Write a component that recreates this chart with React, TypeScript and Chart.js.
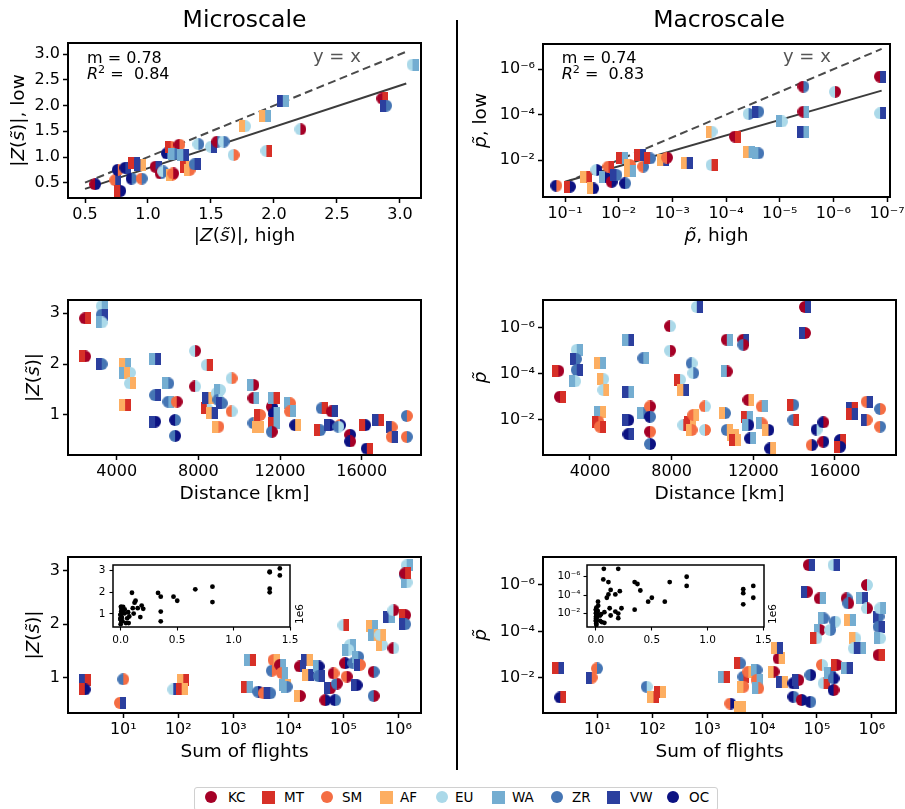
import React, { useEffect, useRef } from "react";
import { Chart, registerables } from "chart.js";

Chart.register(...registerables);

const FONT = "'DejaVu Sans', 'Liberation Sans', sans-serif";

// ---------- regions ----------
const REGIONS = ["KC", "MT", "SM", "AF", "EU", "WA", "ZR", "VW", "OC"];
const REGION_COLORS = ["#a50026", "#d73027", "#f46d43", "#fdae61", "#abd9e9", "#74add1", "#4575b4", "#2b3f9e", "#0c1282"];
const REGION_SHAPES = ["circle", "square", "circle", "square", "circle", "square", "circle", "square", "circle"];

// ---------- top-left: |Z| high vs low ----------
const tlHigh = [0.58, 0.74, 0.78, 0.76, 0.82, 0.87, 0.89, 0.94, 0.95, 1.06, 1.10, 1.12, 1.15, 1.18, 1.25, 1.21, 1.19, 1.20, 1.28, 1.30, 1.33, 1.37, 1.40, 1.50, 1.55, 1.60, 1.68, 1.77, 1.93, 1.94, 2.07, 2.21, 2.86, 2.89, 3.10];
const tlLow = [0.47, 0.55, 0.34, 0.75, 0.79, 0.58, 0.89, 0.85, 0.58, 0.81, 0.68, 0.72, 1.07, 1.20, 1.24, 1.06, 0.65, 0.68, 1.04, 0.80, 0.75, 0.86, 1.25, 1.20, 1.30, 1.30, 1.04, 1.60, 1.80, 1.12, 2.09, 1.54, 2.14, 2.00, 2.80];
const tlPairs = ["KC|OC", "SM|VW", "MT|OC", "OC|SM", "OC|VW", "OC|ZR", "MT|VW", "VW|AF", "SM|ZR", "KC|VW", "KC|ZR", "EU|ZR", "OC|ZR", "MT|SM", "KC|SM", "WA|ZR", "AF|SM", "SM|KC", "WA|VW", "MT|AF", "AF|SM", "ZR|VW", "EU|ZR", "EU|VW", "KC|ZR", "EU|ZR", "EU|SM", "AF|EU", "AF|WA", "EU|MT", "VW|WA", "EU|KC", "KC|MT", "VW|ZR", "EU|WA"];
const tlFitX = [0.5, 3.05];
const tlFitY = [0.38, 2.43];
const tlDiag = [0.5, 3.05];

// ---------- top-right: p high vs low ----------
const trHigh = [1.45e-1, 8.1e-2, 4.0e-2, 3.0e-2, 2.6e-2, 1.8e-2, 1.55e-2, 1.35e-2, 1.1e-2, 8.7e-3, 7.6e-3, 6.2e-3, 6.2e-3, 4.0e-3, 3.5e-3, 2.6e-3, 1.48e-3, 1.26e-3, 5.4e-4, 1.86e-4, 1.86e-4, 6.8e-5, 3.8e-5, 2.5e-5, 3.8e-5, 2.5e-5, 9.1e-6, 3.6e-6, 3.6e-6, 3.6e-6, 9.3e-7, 1.35e-7, 1.35e-7];
const trLow = [1.35e-1, 1.5e-1, 5.5e-2, 1.8e-1, 2.75e-2, 5.5e-2, 1.95e-2, 9.1e-2, 4.6e-2, 8.5e-3, 1.07e-1, 1.66e-2, 3.2e-2, 6.0e-3, 1.95e-2, 8.5e-3, 1.0e-2, 7.9e-3, 1.4e-2, 1.66e-2, 5.6e-4, 9.3e-4, 4.3e-3, 5.1e-3, 9.3e-5, 7.4e-5, 2.0e-4, 5.8e-6, 7.4e-5, 5.6e-4, 9.8e-6, 2.1e-6, 8.7e-5];
const trPairs = ["OC|SM", "MT|OC", "AF|MT", "AF|OC", "EU|OC", "WA|OC", "SM|MT", "KC|OC", "VW|ZR", "MT|WA", "OC|ZR", "AF|SM", "AF|WA", "MT|VW", "SM|ZR", "MT|ZR", "AF|VW", "SM|KC", "AF|VW", "EU|MT", "AF|EU", "KC|MT", "AF|WA", "WA|ZR", "EU|ZR", "VW|ZR", "WA|EU", "KC|ZR", "KC|WA", "VW|WA", "EU|KC", "KC|VW", "EU|VW"];
const trFitX = [1e-1, 1.26e-7];
const trFitY = [9.1e-2, 8.7e-6];
const trDiag = [1e-1, 1.26e-7];

// ---------- middle-left: distance vs |Z| ----------
const mlDist = [2450, 2450, 3265, 3265, 3265, 3265, 4410, 4410, 4650, 4650, 4410, 5880, 5880, 5880, 6530, 6530, 6940, 6860, 6860, 7840, 7840, 8410, 8410, 8490, 8900, 9060, 8980, 8650, 9150, 8980, 9630, 9630, 10700, 10700, 10700, 11020, 10940, 11600, 11680, 11680, 11680, 11600, 12490, 12490, 12740, 14040, 13960, 14530, 14450, 14940, 14860, 15430, 15430, 16170, 16250, 16820, 17470, 17470, 18210, 18210];
const mlZ = [2.90, 2.15, 3.14, 2.97, 2.82, 2.00, 2.00, 1.82, 1.83, 1.62, 1.20, 2.10, 1.39, 0.87, 1.62, 1.26, 1.26, 0.90, 0.59, 2.26, 1.56, 1.98, 1.13, 1.33, 1.43, 1.49, 1.30, 1.03, 1.23, 0.77, 1.72, 1.07, 1.59, 1.33, 0.84, 1.00, 0.77, 1.16, 1.33, 1.03, 0.84, 0.67, 1.23, 1.07, 0.80, 1.13, 0.70, 1.07, 0.80, 0.80, 0.77, 0.61, 0.48, 0.80, 0.34, 0.90, 0.76, 0.57, 0.98, 0.57];
const mlPairs = ["KC|MT", "MT|KC", "EU|WA", "ZR|VW", "WA|EU", "VW|ZR", "AF|WA", "WA|AF", "AF|EU", "EU|AF", "AF|MT", "WA|VW", "ZR|VW", "VW|OC", "WA|ZR", "ZR|WA", "SM|KC", "OC|ZR", "ZR|OC", "EU|KC", "KC|EU", "EU|MT", "MT|EU", "VW|AF", "EU|ZR", "WA|EU", "ZR|EU", "AF|VW", "VW|ZR", "AF|SM", "EU|SM", "SM|EU", "WA|KC", "KC|WA", "ZR|AF", "MT|SM", "AF|AF", "KC|OC", "WA|MT", "OC|WA", "MT|WA", "ZR|KC", "WA|SM", "SM|WA", "OC|AF", "ZR|MT", "MT|ZR", "KC|VW", "VW|OC", "SM|OC", "ZR|EU", "KC|OC", "OC|KC", "MT|OC", "OC|MT", "VW|MT", "VW|SM", "SM|VW", "ZR|SM", "SM|ZR"];

// ---------- middle-right: distance vs p ----------
const mrDist = [2450, 2530, 3350, 3310, 3350, 3270, 4490, 4650, 4650, 4490, 4410, 4490, 5880, 5880, 5880, 5880, 6610, 6610, 6940, 6940, 6940, 6940, 7920, 7920, 8410, 8570, 8570, 8900, 8980, 9060, 9060, 8980, 9230, 9630, 9630, 10700, 10700, 10610, 10700, 11020, 11100, 11510, 11510, 11760, 11680, 11760, 11840, 12410, 12410, 12740, 12820, 13960, 13960, 14530, 14530, 14860, 15100, 15430, 15430, 16250, 16250, 16820, 16820, 17550, 17550, 18210, 18210];
const mrP = [7.4e-5, 9.8e-4, 9.1e-6, 2.3e-5, 6.8e-5, 2.1e-4, 3.5e-5, 1.7e-4, 5.0e-4, 4.4e-3, 1.17e-2, 1.95e-2, 3.3e-6, 5.9e-4, 1.0e-2, 4.1e-2, 2.1e-5, 5.1e-3, 2.6e-3, 7.2e-3, 3.2e-2, 1.1e-1, 8.7e-7, 9.8e-6, 1.8e-4, 5.0e-4, 1.66e-2, 1.17e-2, 3.5e-5, 9.3e-5, 6.0e-3, 2.7e-2, 1.26e-7, 2.6e-3, 2.7e-2, 3.3e-6, 7.9e-5, 5.1e-3, 2.7e-2, 4.5e-2, 7.4e-2, 3.3e-6, 5.5e-6, 1.35e-3, 7.2e-3, 1.66e-2, 6.3e-2, 2.6e-3, 1.4e-2, 2.7e-2, 1.7e-1, 2.2e-3, 1.0e-2, 1.26e-7, 1.7e-6, 1.23e-1, 2.6e-2, 1.26e-2, 8.7e-2, 7.4e-2, 1.45e-1, 3.1e-3, 5.5e-3, 1.6e-3, 1.0e-2, 3.3e-3, 1.95e-2];
const mrPairs = ["MT|KC", "KC|MT", "EU|WA", "VW|ZR", "ZR|VW", "WA|EU", "AF|WA", "AF|EU", "EU|AF", "WA|AF", "MT|SM", "SM|MT", "WA|VW", "VW|WA", "VW|OC", "OC|VW", "ZR|WA", "WA|ZR", "SM|KC", "OC|ZR", "KC|SM", "ZR|OC", "KC|EU", "EU|KC", "MT|EU", "AF|VW", "EU|MT", "MT|AF", "ZR|EU", "EU|ZR", "SM|AF", "AF|SM", "EU|VW", "SM|EU", "EU|SM", "KC|WA", "WA|KC", "AF|ZR", "ZR|AF", "AF|AF", "MT|AF", "KC|VW", "ZR|KC", "KC|AF", "MT|WA", "WA|OC", "OC|WA", "SM|WA", "WA|SM", "AF|OC", "OC|AF", "MT|ZR", "ZR|MT", "KC|VW", "VW|KC", "SM|OC", "OC|EU", "OC|KC", "KC|OC", "OC|MT", "MT|OC", "VW|MT", "MT|VW", "SM|VW", "VW|SM", "ZR|SM", "SM|ZR"];

// ---------- bottom-left: flights vs |Z| ----------
const blFlights = [2.0, 2.0, 10, 8.7, 81, 123, 115, 2000, 1740, 2820, 3550, 4680, 5370, 5010, 7080, 7590, 8710, 9330, 16200, 21400, 22900, 16200, 35500, 35500, 57500, 46800, 70800, 75900, 66100, 100000, 107000, 115000, 132000, 123000, 151000, 186000, 200000, 174000, 331000, 355000, 501000, 468000, 355000, 355000, 661000, 813000, 813000, 1320000, 1320000, 1410000, 1320000, 1410000, 1320000];
const blZ = [0.96, 0.78, 0.97, 0.53, 0.78, 0.96, 0.78, 1.33, 0.82, 0.74, 0.71, 0.71, 1.33, 1.13, 1.24, 1.09, 0.86, 0.83, 1.21, 1.33, 1.05, 0.66, 1.21, 1.03, 0.80, 0.58, 0.58, 0.89, 1.08, 1.98, 1.27, 1.02, 1.61, 1.52, 1.27, 1.39, 1.24, 0.86, 1.97, 1.80, 1.61, 1.80, 1.11, 0.66, 2.14, 2.26, 1.55, 2.17, 2.00, 3.10, 2.92, 2.78, 2.95];
const blPairs = ["VW|MT", "MT|OC", "ZR|SM", "SM|VW", "EU|VW", "AF|MT", "MT|AF", "WA|MT", "MT|WA", "ZR|OC", "SM|VW", "VW|ZR", "SM|AF", "ZR|SM", "KC|WA", "SM|WA", "WA|AF", "WA|ZR", "KC|VW", "VW|AF", "AF|VW", "AF|KC", "WA|OC", "ZR|VW", "VW|KC", "KC|OC", "OC|ZR", "ZR|KC", "KC|SM", "EU|MT", "KC|OC", "SM|KC", "EU|WA", "WA|EU", "ZR|WA", "WA|ZR", "VW|SM", "VW|OC", "AF|WA", "WA|AF", "AF|EU", "EU|AF", "KC|ZR", "ZR|KC", "VW|WA", "EU|KC", "KC|EU", "MT|KC", "VW|ZR", "EU|WA", "ZR|VW", "WA|EU", "KC|MT"];

// ---------- bottom-right: flights vs p ----------
const brFlights = [1.95, 2.1, 9.8, 7.9, 79, 105, 138, 2000, 2630, 3980, 3980, 4570, 4570, 5620, 7940, 7940, 8510, 16200, 20000, 18600, 22900, 37200, 45700, 37200, 52500, 75900, 70800, 66100, 75900, 112000, 112000, 97700, 132000, 200000, 214000, 174000, 123000, 132000, 174000, 200000, 200000, 229000, 347000, 347000, 372000, 398000, 501000, 468000, 661000, 813000, 813000, 617000, 1320000, 1320000, 1410000, 1410000, 1320000];
const brP = [4.0e-3, 7.1e-2, 4.0e-3, 9.8e-3, 2.45e-2, 6.6e-2, 4.0e-2, 9.1e-3, 1.3e-1, 1.8e-1, 2.4e-3, 9.1e-3, 2.45e-2, 5.5e-3, 4.7e-3, 1.26e-2, 2.9e-2, 5.5e-3, 1.48e-3, 5.4e-4, 1.48e-2, 1.74e-2, 1.26e-2, 6.6e-2, 9.1e-2, 1.1e-1, 1.38e-7, 1.95e-6, 7.6e-3, 3.8e-6, 8.7e-5, 2.0e-4, 2.75e-5, 1.38e-7, 3.8e-5, 8.7e-5, 2.8e-3, 1.74e-2, 6.5e-3, 1.07e-2, 3.4e-2, 2.8e-3, 4.0e-3, 3.8e-6, 6.2e-6, 3.2e-5, 2.0e-4, 5.4e-4, 3.8e-6, 1.0e-6, 1.02e-5, 5.4e-4, 2.3e-5, 6.3e-5, 2.0e-4, 1.02e-5, 1.05e-3];
const brPairs = ["MT|VW", "OC|MT", "SM|ZR", "VW|SM", "ZR|EU", "AF|MT", "MT|AF", "WA|MT", "SM|OC", "AF|AF", "MT|ZR", "ZR|MT", "AF|SM", "SM|AF", "WA|ZR", "SM|WA", "WA|SM", "AF|KC", "KC|AF", "AF|VW", "VW|AF", "OC|VW", "VW|KC", "OC|ZR", "KC|OC", "OC|ZR", "KC|VW", "VW|KC", "ZR|OC", "KC|WA", "WA|KC", "MT|EU", "WA|ZR", "EU|VW", "ZR|EU", "EU|ZR", "SM|EU", "EU|MT", "WA|ZR", "ZR|OC", "OC|KC", "MT|KC", "WA|VW", "KC|ZR", "ZR|KC", "AF|WA", "AF|EU", "EU|VW", "WA|VW", "KC|EU", "EU|KC", "VW|WA", "VW|ZR", "ZR|VW", "WA|EU", "EU|WA", "KC|MT"];

// ---------- tick values / labels ----------
const tlTicks = [0.5, 1.0, 1.5, 2.0, 2.5, 3.0];
const tlTickLabels = ["0.5", "1.0", "1.5", "2.0", "2.5", "3.0"];
const trXTicks = [1e-1, 1e-2, 1e-3, 1e-4, 1e-5, 1e-6, 1e-7];
const trXTickLabels = ["10⁻¹", "10⁻²", "10⁻³", "10⁻⁴", "10⁻⁵", "10⁻⁶", "10⁻⁷"];
const pTicks = [1e-2, 1e-4, 1e-6];
const pTickLabels = ["10⁻²", "10⁻⁴", "10⁻⁶"];
const distTicks = [4000, 8000, 12000, 16000];
const distTickLabels = ["4000", "8000", "12000", "16000"];
const zTicks = [1, 2, 3];
const zTickLabels = ["1", "2", "3"];
const flightTicks = [1e1, 1e2, 1e3, 1e4, 1e5, 1e6];
const flightTickLabels = ["10¹", "10²", "10³", "10⁴", "10⁵", "10⁶"];
const insetXTicks = [0, 0.5, 1.0, 1.5];
const insetXTickLabels = ["0.0", "0.5", "1.0", "1.5"];

// ---------- helpers ----------
type Seg = { t: string; it?: boolean; sup?: boolean };
type TextItem = { x: number; y: number; segs: Seg[]; size: number; align?: "left" | "center"; rot?: number; color?: string };

function segFont(s: Seg, size: number) {
  const sz = s.sup ? size * 0.7 : size;
  return `${s.it ? "italic " : ""}${sz}px ${FONT}`;
}

function drawRich(ctx: CanvasRenderingContext2D, it: TextItem, ox: number, oy: number) {
  ctx.save();
  ctx.translate(it.x - ox, it.y - oy);
  if (it.rot) ctx.rotate(it.rot);
  ctx.textBaseline = "alphabetic";
  ctx.textAlign = "left";
  const widths = it.segs.map((s) => {
    ctx.font = segFont(s, it.size);
    return ctx.measureText(s.t).width;
  });
  const total = widths.reduce((a, b) => a + b, 0);
  let cx = it.align === "center" ? -total / 2 : 0;
  ctx.fillStyle = it.color || "#000";
  it.segs.forEach((s, i) => {
    ctx.font = segFont(s, it.size);
    ctx.fillText(s.t, cx, s.sup ? -it.size * 0.38 : 0);
    cx += widths[i];
  });
  ctx.restore();
}

const markerCache = new Map<string, HTMLCanvasElement>();
const MARKER = 12;
function drawHalf(g: CanvasRenderingContext2D, region: string, side: "left" | "right") {
  const i = REGIONS.indexOf(region);
  const r = MARKER / 2;
  g.fillStyle = REGION_COLORS[i];
  if (REGION_SHAPES[i] === "circle") {
    g.beginPath();
    if (side === "left") g.arc(r, r, r, Math.PI / 2, (3 * Math.PI) / 2);
    else g.arc(r, r, r, -Math.PI / 2, Math.PI / 2);
    g.closePath();
    g.fill();
  } else {
    if (side === "left") g.fillRect(0, 0, r, MARKER);
    else g.fillRect(r, 0, r, MARKER);
  }
}
function makeMarker(pair: string): HTMLCanvasElement {
  const cached = markerCache.get(pair);
  if (cached) return cached;
  const [a, b] = pair.split("|");
  const c = document.createElement("canvas");
  c.width = MARKER;
  c.height = MARKER;
  const g = c.getContext("2d")!;
  drawHalf(g, a, "left");
  drawHalf(g, b, "right");
  markerCache.set(pair, c);
  return c;
}

function pairDataset(xs: number[], ys: number[], pairs: string[]) {
  return {
    data: xs.map((x, i) => ({ x, y: ys[i] })),
    pointStyle: pairs.map((p) => makeMarker(p)),
    pointRadius: 6,
    pointHoverRadius: 6,
    borderWidth: 0,
    backgroundColor: "rgba(0,0,0,0)",
    showLine: false,
    clip: 0,
    order: 0,
  };
}
function lineDataset(xs: number[], ys: number[], dashed: boolean) {
  return {
    data: xs.map((x, i) => ({ x, y: ys[i] })),
    showLine: true,
    pointRadius: 0,
    borderColor: dashed ? "#4a4a4a" : "#3c3c3c",
    borderWidth: 2,
    borderDash: dashed ? [8, 4.5] : [],
    fill: false,
    clip: 0,
    order: 1,
  };
}
function dotDataset(xs: number[], ys: number[]) {
  return {
    data: xs.map((x, i) => ({ x, y: ys[i] })),
    pointStyle: "circle",
    pointRadius: 2.4,
    pointHoverRadius: 2.4,
    borderWidth: 0,
    backgroundColor: "#000",
    showLine: false,
    clip: 0,
  };
}

type AxisSpec = {
  type: "linear" | "logarithmic";
  min: number;
  max: number;
  reverse?: boolean;
  ticks: number[];
  labels: string[];
  font: number;
  tickLen?: number;
  pad?: number;
};

function axisOptions(spec: AxisSpec, horizontal: boolean, size: number) {
  return {
    type: spec.type,
    position: horizontal ? "bottom" : "left",
    min: spec.min,
    max: spec.max,
    reverse: !!spec.reverse,
    bounds: "data",
    afterBuildTicks: (s: any) => {
      s.ticks = spec.ticks.map((v) => ({ value: v }));
    },
    afterFit: (s: any) => {
      if (horizontal) s.height = size;
      else s.width = size;
      s.paddingLeft = 0;
      s.paddingRight = 0;
      s.paddingTop = 0;
      s.paddingBottom = 0;
    },
    ticks: {
      autoSkip: false,
      maxRotation: 0,
      minRotation: 0,
      padding: spec.pad ?? 3,
      color: "#000",
      font: { family: FONT, size: spec.font },
      callback: (_v: any, i: number) => spec.labels[i],
    },
    grid: {
      display: true,
      drawOnChartArea: false,
      drawTicks: true,
      tickLength: spec.tickLen ?? 5,
      tickWidth: spec.font > 12 ? 1.5 : 1.1,
      tickColor: "#000",
    },
    border: { display: false },
    title: { display: false },
  };
}

type Panel = {
  left: number;
  top: number;
  width: number;
  height: number;
  area: [number, number, number, number];
  x: AxisSpec;
  y: AxisSpec;
  datasets: () => any[];
  texts: TextItem[];
  inset?: boolean;
};

function createPanel(canvas: HTMLCanvasElement, p: Panel) {
  const [l, t, r, b] = p.area;
  const yW = l - p.left;
  const xH = p.top + p.height - b;
  const plugin = {
    id: "panelDecor",
    beforeDraw(chart: any) {
      if (!p.inset) return;
      const a = chart.chartArea;
      chart.ctx.save();
      chart.ctx.fillStyle = "#fff";
      chart.ctx.fillRect(a.left, a.top, a.right - a.left, a.bottom - a.top);
      chart.ctx.restore();
    },
    afterDatasetsDraw(chart: any) {
      const a = chart.chartArea;
      const ctx = chart.ctx;
      ctx.save();
      ctx.strokeStyle = "#000";
      ctx.lineWidth = p.inset ? 1.5 : 2;
      ctx.strokeRect(a.left, a.top, a.right - a.left, a.bottom - a.top);
      ctx.restore();
    },
    afterDraw(chart: any) {
      p.texts.forEach((it) => drawRich(chart.ctx, it, p.left, p.top));
    },
  };
  return new Chart(canvas, {
    type: "scatter",
    data: { datasets: p.datasets() },
    options: {
      animation: false,
      responsive: false,
      maintainAspectRatio: false,
      events: [],
      layout: { padding: { left: 0, top: t - p.top, right: p.left + p.width - r, bottom: 0 } },
      plugins: { legend: { display: false }, tooltip: { enabled: false }, title: { display: false } },
      scales: {
        x: axisOptions(p.x, true, xH),
        y: axisOptions(p.y, false, yW),
      },
    } as any,
    plugins: [plugin as any],
  });
}

// ---------- text pieces ----------
const zLabel = (suffix: string): Seg[] => [
  { t: "|" },
  { t: "Z", it: true },
  { t: "(" },
  { t: "s\u0303", it: true },
  { t: ")|" + suffix },
];
const pLabel = (suffix: string): Seg[] => [{ t: "p\u0303", it: true }, { t: suffix }];
const LBL = 18.5;

const panels: Panel[] = [
  {
    left: 0, top: 0, width: 457, height: 258, area: [68, 43, 421, 198],
    x: { type: "linear", min: 0.365, max: 3.167, ticks: tlTicks, labels: tlTickLabels, font: 16, pad: 2 },
    y: { type: "linear", min: 0.202, max: 3.22, ticks: tlTicks, labels: tlTickLabels, font: 16 },
    datasets: () => [pairDataset(tlHigh, tlLow, tlPairs), lineDataset(tlFitX, tlFitY, false), lineDataset(tlDiag, tlDiag, true)],
    texts: [
      { x: 244.5, y: 27, size: 23.5, align: "center", segs: [{ t: "Microscale" }] },
      { x: 24, y: 120.5, size: LBL, align: "center", rot: -Math.PI / 2, segs: zLabel(", low") },
      { x: 244.5, y: 241, size: LBL, align: "center", segs: zLabel(", high") },
      { x: 87, y: 62.7, size: 16, segs: [{ t: "m = 0.78" }] },
      { x: 87, y: 79.3, size: 16, segs: [{ t: "R", it: true }, { t: "2", sup: true }, { t: " =  0.84" }] },
      { x: 313, y: 62, size: 18, color: "#555", segs: [{ t: "y = x" }] },
    ],
  },
  {
    left: 458, top: 0, width: 447, height: 258, area: [543, 44, 890, 197],
    x: { type: "logarithmic", min: 8.8e-8, max: 0.257, reverse: true, ticks: trXTicks, labels: trXTickLabels, font: 16, pad: 2 },
    y: { type: "logarithmic", min: 7.67e-8, max: 0.428, reverse: true, ticks: pTicks, labels: pTickLabels, font: 16 },
    datasets: () => [pairDataset(trHigh, trLow, trPairs), lineDataset(trFitX, trFitY, false), lineDataset(trDiag, trDiag, true)],
    texts: [
      { x: 719, y: 27, size: 23.5, align: "center", segs: [{ t: "Macroscale" }] },
      { x: 486, y: 120.5, size: LBL, align: "center", rot: -Math.PI / 2, segs: pLabel(", low") },
      { x: 716.5, y: 241, size: LBL, align: "center", segs: pLabel(", high") },
      { x: 561.7, y: 62.7, size: 16, segs: [{ t: "m = 0.74" }] },
      { x: 561.7, y: 79.3, size: 16, segs: [{ t: "R", it: true }, { t: "2", sup: true }, { t: " =  0.83" }] },
      { x: 783, y: 62, size: 18, color: "#555", segs: [{ t: "y = x" }] },
    ],
  },
  {
    left: 0, top: 258, width: 457, height: 262, area: [68, 300, 421, 455],
    x: { type: "linear", min: 1615, max: 18904, ticks: distTicks, labels: distTickLabels, font: 16, pad: 2 },
    y: { type: "linear", min: 0.213, max: 3.26, ticks: zTicks, labels: zTickLabels, font: 16 },
    datasets: () => [pairDataset(mlDist, mlZ, mlPairs)],
    texts: [
      { x: 39, y: 377.5, size: LBL, align: "center", rot: -Math.PI / 2, segs: zLabel("") },
      { x: 244.5, y: 499, size: LBL, align: "center", segs: [{ t: "Distance [km]" }] },
    ],
  },
  {
    left: 458, top: 258, width: 447, height: 262, area: [543, 300, 896, 455],
    x: { type: "linear", min: 1698, max: 18988, ticks: distTicks, labels: distTickLabels, font: 16, pad: 2 },
    y: { type: "logarithmic", min: 6.3e-8, max: 0.329, reverse: true, ticks: pTicks, labels: pTickLabels, font: 16 },
    datasets: () => [pairDataset(mrDist, mrP, mrPairs)],
    texts: [
      { x: 486, y: 377.5, size: LBL, align: "center", rot: -Math.PI / 2, segs: pLabel("") },
      { x: 719.5, y: 499, size: LBL, align: "center", segs: [{ t: "Distance [km]" }] },
    ],
  },
  {
    left: 0, top: 520, width: 457, height: 262, area: [68, 557, 421, 713],
    x: { type: "logarithmic", min: 0.99, max: 2.57e6, ticks: flightTicks, labels: flightTickLabels, font: 16, pad: 2 },
    y: { type: "linear", min: 0.34, max: 3.256, ticks: zTicks, labels: zTickLabels, font: 16 },
    datasets: () => [pairDataset(blFlights, blZ, blPairs)],
    texts: [
      { x: 39, y: 635, size: LBL, align: "center", rot: -Math.PI / 2, segs: zLabel("") },
      { x: 244.5, y: 756.5, size: LBL, align: "center", segs: [{ t: "Sum of flights" }] },
    ],
  },
  {
    left: 458, top: 520, width: 447, height: 262, area: [543, 557, 896, 713],
    x: { type: "logarithmic", min: 1.02, max: 2.75e6, ticks: flightTicks, labels: flightTickLabels, font: 16, pad: 2 },
    y: { type: "logarithmic", min: 6.2e-8, max: 0.333, reverse: true, ticks: pTicks, labels: pTickLabels, font: 16 },
    datasets: () => [pairDataset(brFlights, brP, brPairs)],
    texts: [
      { x: 486, y: 635, size: LBL, align: "center", rot: -Math.PI / 2, segs: pLabel("") },
      { x: 719.5, y: 756.5, size: LBL, align: "center", segs: [{ t: "Sum of flights" }] },
    ],
  },
  {
    left: 85, top: 558, width: 232, height: 92, area: [113, 565, 290, 627], inset: true,
    x: { type: "linear", min: -0.068, max: 1.5, ticks: insetXTicks, labels: insetXTickLabels, font: 10.5, tickLen: 3.5, pad: 3 },
    y: { type: "linear", min: 0.40, max: 3.26, ticks: zTicks, labels: zTickLabels, font: 10.5, tickLen: 3.5, pad: 4 },
    datasets: () => [dotDataset(blFlights.map((f) => f / 1e6), blZ)],
    texts: [{ x: 303, y: 614, size: 10.5, align: "center", rot: -Math.PI / 2, segs: [{ t: "1e6" }] }],
  },
  {
    left: 557, top: 558, width: 232, height: 92, area: [587, 565, 764, 627], inset: true,
    x: { type: "linear", min: -0.08, max: 1.506, ticks: insetXTicks, labels: insetXTickLabels, font: 10.5, tickLen: 3.5, pad: 3 },
    y: { type: "logarithmic", min: 5.2e-8, max: 0.316, reverse: true, ticks: pTicks, labels: pTickLabels, font: 10.5, tickLen: 3.5, pad: 3 },
    datasets: () => [dotDataset(brFlights.map((f) => f / 1e6), brP)],
    texts: [{ x: 776, y: 614, size: 10.5, align: "center", rot: -Math.PI / 2, segs: [{ t: "1e6" }] }],
  },
];

// legend layout (page coordinates of each entry's marker centre and label start)
const LEGEND_MARKER_X = [210.7, 268, 326.7, 386.7, 441.7, 498, 556.7, 613, 673];
const LEGEND_TEXT_X = [228, 284, 342, 400, 455, 512, 572, 630, 689];

export default function App() {
  const refs = useRef<(HTMLCanvasElement | null)[]>([]);

  useEffect(() => {
    const charts = panels.map((p, i) => createPanel(refs.current[i]!, p));
    return () => charts.forEach((c) => c.destroy());
  }, []);

  const LEG_L = 194;
  const LEG_T = 787;

  return (
    <div style={{ position: "absolute", left: 0, top: 0, width: 905, height: 809, overflow: "hidden", background: "#fff", fontFamily: FONT }}>
      {panels.map((p, i) => (
        <canvas
          key={i}
          ref={(el) => { refs.current[i] = el; }}
          width={p.width}
          height={p.height}
          style={{ position: "absolute", left: p.left, top: p.top, width: p.width, height: p.height }}
        />
      ))}
      <div style={{ position: "absolute", left: 456, top: 20, width: 2, height: 750, background: "#000" }} />
      <div
        style={{
          position: "absolute", left: LEG_L, top: LEG_T, width: 524, height: 24, boxSizing: "border-box",
          border: "1px solid #d0d0d0", borderRadius: 3, background: "#fff",
          fontSize: 13.5, color: "#000", fontFamily: FONT,
        }}
      >
        {REGIONS.map((r, i) => {
          const sq = REGION_SHAPES[i] === "square";
          const s = sq ? 13 : 12;
          return (
            <React.Fragment key={r}>
              <span
                style={{
                  position: "absolute", left: LEGEND_MARKER_X[i] - LEG_L - 1 - s / 2, top: 797 - LEG_T - 1 - s / 2,
                  width: s, height: s, background: REGION_COLORS[i], borderRadius: sq ? 0 : "50%",
                }}
              />
              <span
                style={{
                  position: "absolute", left: LEGEND_TEXT_X[i] - LEG_L - 1, top: 797 - LEG_T - 1 - 8,
                  lineHeight: "16px", whiteSpace: "nowrap",
                }}
              >
                {r}
              </span>
            </React.Fragment>
          );
        })}
      </div>
    </div>
  );
}
